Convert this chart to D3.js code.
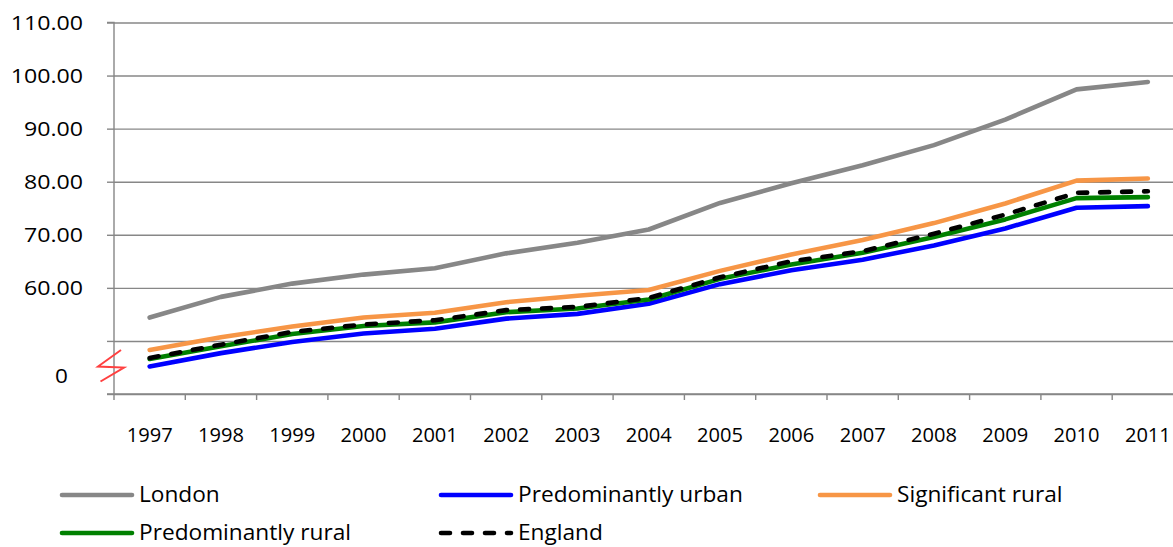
<!DOCTYPE html>
<html>
<head>
<meta charset="utf-8">
<script src="https://cdn.jsdelivr.net/npm/d3@7"></script>
<style>
  html, body { margin: 0; padding: 0; background: #fff; }
  svg { display: block; }
  text { font-family: "Open Sans", "Liberation Sans", sans-serif; fill: #000; }
</style>
</head>
<body>
<script>
// ---- data ----
const years = ["1997","1998","1999","2000","2001","2002","2003","2004","2005","2006","2007","2008","2009","2010","2011"];
const london        = [54.4, 58.3, 60.8, 62.5, 63.7, 66.5, 68.5, 71.0, 76.0, 79.7, 83.1, 86.9, 91.7, 97.4, 98.8];
const predUrban     = [45.2, 47.7, 49.8, 51.4, 52.3, 54.2, 55.1, 57.0, 60.7, 63.3, 65.3, 68.0, 71.2, 75.1, 75.4];
const sigRural      = [48.3, 50.7, 52.7, 54.4, 55.3, 57.3, 58.5, 59.6, 63.2, 66.3, 69.0, 72.2, 75.9, 80.2, 80.6];
const predRural     = [46.6, 49.0, 51.3, 52.8, 53.5, 55.4, 56.1, 57.8, 61.7, 64.4, 66.6, 69.6, 72.9, 76.9, 77.1];
const england       = [46.8, 49.3, 51.7, 53.1, 53.9, 55.8, 56.4, 58.1, 62.0, 65.0, 66.9, 70.2, 73.8, 77.9, 78.2];
const seriesNames   = ["London","Predominantly urban","Significant rural","Predominantly rural","England"];
const yGridValues   = [40, 50, 60, 70, 80, 90, 100, 110];
const yLabelValues  = [60, 70, 80, 90, 100, 110];
const breakLabel    = "0";

// ---- setup ----
const W = 1173, H = 547;
const svg = d3.select("body").append("svg").attr("width", W).attr("height", H);

const plotL = 114, plotR = 1183.5, plotT = 22.5, plotB = 394;
const x = d3.scaleBand().domain(years).range([plotL, plotR]);
const y = d3.scaleLinear().domain([40, 110]).range([plotB, plotT]);
const xc = d => x(d) + x.bandwidth() / 2;

const gridColor = "#878787";

// gridlines
const grid = svg.append("g").attr("transform", `translate(${plotL},0)`)
  .call(d3.axisLeft(y).tickValues(yGridValues).tickSize(-(plotR - plotL)).tickFormat(""));
grid.select(".domain").remove();
grid.selectAll("line").attr("stroke", gridColor).attr("stroke-width", 1.4);

// y axis with outer ticks + labels
const yAx = svg.append("g").attr("transform", `translate(${plotL},0)`)
  .call(d3.axisLeft(y).tickValues(yGridValues).tickSize(7).tickPadding(24)
        .tickFormat(d => yLabelValues.includes(d) ? d3.format(".2f")(d) : ""));
yAx.select(".domain").attr("stroke", gridColor).attr("stroke-width", 1.4).attr("d", `M-7,${plotB}H0V${plotT}H-7`);
yAx.selectAll(".tick line").attr("stroke", gridColor).attr("stroke-width", 1.4);
yAx.selectAll(".tick text")
  .attr("x", 0)
  .attr("font-size", 20.5)
  .attr("font-family", "Open Sans")
  .attr("transform", "translate(-31,0) scale(1.13,1)");

// break label "0"
svg.append("text")
  .attr("transform", `translate(68,${(y(40) + y(50)) / 2 + 8.5}) scale(1.1,1)`)
  .attr("text-anchor", "end").attr("dy", "0.35em")
  .attr("font-size", 20.5).text(breakLabel);

// x axis
svg.append("line").attr("x1", plotL).attr("x2", plotR).attr("y1", plotB).attr("y2", plotB)
  .attr("stroke", gridColor).attr("stroke-width", 1.4);
const boundaries = years.map(d => x(d)).concat([x(years[years.length - 1]) + x.step()]);
svg.append("g").selectAll("line").data(boundaries).join("line")
  .attr("x1", d => d).attr("x2", d => d).attr("y1", plotB).attr("y2", plotB + 6)
  .attr("stroke", gridColor).attr("stroke-width", 1.4);
svg.append("g").selectAll("text").data(years).join("text")
  .attr("transform", d => `translate(${xc(d)},435) scale(0.98,1)`)
  .attr("text-anchor", "middle").attr("dy", "0.35em")
  .attr("font-size", 20.5).text(d => d);

// axis break mark
svg.append("path")
  .attr("d", d3.line()([[121, 350], [98, 366.5], [124, 367.5], [100.5, 381.5]]))
  .attr("fill", "none").attr("stroke", "#ff4040").attr("stroke-width", 2)
  .attr("stroke-linejoin", "miter");

// ---- series ----
const styles = [
  { color: "#878787", dash: null },
  { color: "#0000ff", dash: null },
  { color: "#f79646", dash: null },
  { color: "#008000", dash: null },
  { color: "#000000", dash: "9,13" }
];
const allSeries = [london, predUrban, sigRural, predRural, england];
const line = d3.line().x((d, i) => xc(years[i])).y(d => y(d));

allSeries.forEach((vals, k) => {
  svg.append("path").datum(vals)
    .attr("d", line)
    .attr("fill", "none")
    .attr("stroke", styles[k].color)
    .attr("stroke-width", 4.6)
    .attr("stroke-linecap", "round")
    .attr("stroke-linejoin", "round")
    .attr("stroke-dasharray", styles[k].dash);
});

// ---- legend ----
const legCols = [62, 441, 820], legRows = [495, 533];
const legOrder = [0, 1, 2, 3, 4];
legOrder.forEach((k, i) => {
  const col = i % 3, row = Math.floor(i / 3);
  const lx = legCols[col], ly = legRows[row];
  const g = svg.append("g");
  g.append("line").attr("x1", lx).attr("x2", lx + 70).attr("y1", ly).attr("y2", ly)
    .attr("stroke", styles[k].color).attr("stroke-width", 4.6)
    .attr("stroke-linecap", "round")
    .attr("stroke-dasharray", styles[k].dash);
  g.append("text")
    .attr("transform", `translate(${lx + 77},${ly}) scale(1.08,1)`)
    .attr("dy", "0.35em").attr("font-size", 21).text(seriesNames[k]);
});
</script>
</body>
</html>
